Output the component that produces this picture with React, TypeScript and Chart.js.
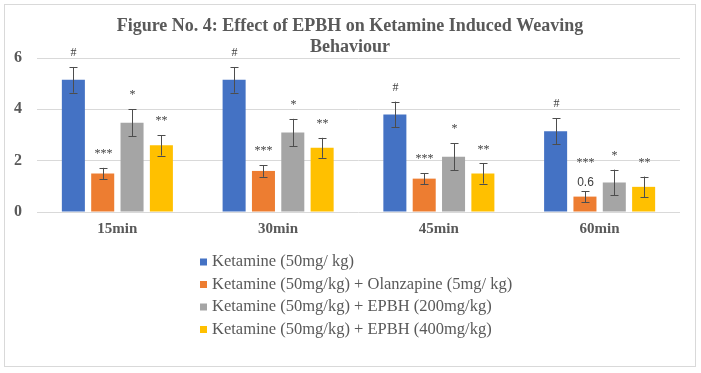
import React, { useEffect, useRef } from "react";
import { Chart, registerables } from "chart.js";

Chart.register(...registerables);

const categories = ["15min", "30min", "45min", "60min"];
const seriesLabels = [
  "Ketamine (50mg/ kg)",
  "Ketamine (50mg/kg) + Olanzapine (5mg/ kg)",
  "Ketamine (50mg/kg) + EPBH (200mg/kg)",
  "Ketamine (50mg/kg) + EPBH (400mg/kg)",
];
const seriesColors = ["#4472C4", "#ED7D31", "#A5A5A5", "#FFC000"];

const ketamine = [5.15, 5.15, 3.8, 3.15];
const olanzapine = [1.5, 1.6, 1.3, 0.6];
const epbh200 = [3.48, 3.1, 2.15, 1.15];
const epbh400 = [2.6, 2.5, 1.5, 0.98];

const ketamineErr = [0.5, 0.5, 0.5, 0.5];
const olanzapineErr = [0.22, 0.23, 0.21, 0.21];
const epbh200Err = [0.52, 0.53, 0.53, 0.5];
const epbh400Err = [0.4, 0.39, 0.39, 0.4];

const significance = ["#", "***", "*", "**"];
const yTicks = [0, 2, 4, 6];
const titleLines = ["Figure No. 4: Effect of EPBH on Ketamine Induced Weaving", "Behaviour"];
const labeledPoint = { series: 1, index: 3 };

const seriesValues = [ketamine, olanzapine, epbh200, epbh400];
const seriesErrors = [ketamineErr, olanzapineErr, epbh200Err, epbh400Err];

const TEXT = "#595959";
const SERIF = '"Liberation Serif", "Times New Roman", serif';

const decorPlugin = {
  id: "decor",
  beforeDraw(chart: any) {
    const ctx = chart.ctx;
    ctx.save();
    ctx.fillStyle = "#ffffff";
    ctx.fillRect(0, 0, chart.width, chart.height);
    ctx.strokeStyle = "#d9d9d9";
    ctx.lineWidth = 1;
    ctx.strokeRect(4.5, 4.5, 691, 362);
    ctx.fillStyle = TEXT;
    ctx.font = `bold 18px ${SERIF}`;
    ctx.textAlign = "center";
    ctx.textBaseline = "middle";
    ctx.fillText(titleLines[0], 350, 26);
    ctx.fillText(titleLines[1], 350, 47);
    ctx.restore();
  },
  afterDatasetsDraw(chart: any) {
    const ctx = chart.ctx;
    const ys = chart.scales.y;
    ctx.save();
    chart.data.datasets.forEach((ds: any, i: number) => {
      const meta = chart.getDatasetMeta(i);
      const errs = seriesErrors[i];
      ds.data.forEach((v: number, j: number) => {
        const x = Math.round(meta.data[j].x) + 0.5;
        const top = ys.getPixelForValue(v + errs[j]);
        const bot = ys.getPixelForValue(v - errs[j]);
        ctx.strokeStyle = "#4d4d4d";
        ctx.lineWidth = 1;
        ctx.beginPath();
        ctx.moveTo(x, top);
        ctx.lineTo(x, bot);
        ctx.moveTo(x - 4, Math.round(top) + 0.5);
        ctx.lineTo(x + 4, Math.round(top) + 0.5);
        ctx.moveTo(x - 4, Math.round(bot) + 0.5);
        ctx.lineTo(x + 4, Math.round(bot) + 0.5);
        ctx.stroke();

        const hasLabel = labeledPoint.series === i && labeledPoint.index === j;
        ctx.fillStyle = "#404040";
        ctx.textAlign = "center";
        ctx.textBaseline = "middle";
        if (hasLabel) {
          ctx.font = '12px "Liberation Sans", Arial, sans-serif';
          ctx.fillText(String(v), x, top - 9);
        }
        ctx.font = `12px ${SERIF}`;
        ctx.fillText(significance[i], x, top - 14 - (hasLabel ? 14 : 0));
      });
    });
    ctx.restore();
  },
  afterDraw(chart: any) {
    const ctx = chart.ctx;
    ctx.save();
    chart.data.datasets.forEach((ds: any, i: number) => {
      const cy = 262 + i * 22.5;
      ctx.fillStyle = ds.backgroundColor;
      ctx.fillRect(200, cy - 3.5, 7, 7);
      ctx.fillStyle = TEXT;
      ctx.font = `16.5px ${SERIF}`;
      ctx.textAlign = "left";
      ctx.textBaseline = "middle";
      ctx.fillText(ds.label, 212, cy);
    });
    ctx.restore();
  },
};

export default function App() {
  const ref = useRef<HTMLCanvasElement>(null);
  useEffect(() => {
    if (!ref.current) return;
    const chart = new Chart(ref.current, {
      type: "bar",
      data: {
        labels: categories,
        datasets: seriesValues.map((vals, i) => ({
          label: seriesLabels[i],
          data: vals,
          backgroundColor: seriesColors[i],
          borderWidth: 0,
          categoryPercentage: 0.73,
          barPercentage: 0.785,
        })),
      },
      options: {
        responsive: false,
        animation: false,
        devicePixelRatio: 1,
        layout: { padding: { left: 0, right: 21, top: 58, bottom: 131 } },
        plugins: {
          legend: { display: false },
          title: { display: false },
          tooltip: { enabled: false },
        },
        scales: {
          x: {
            grid: { display: false, drawTicks: false },
            border: { display: false },
            ticks: {
              color: TEXT,
              padding: 8,
              font: { family: SERIF, size: 15, weight: "bold" },
            },
            afterFit: (s: any) => {
              s.height = 30;
            },
          },
          y: {
            min: 0,
            max: 6,
            afterBuildTicks: (s: any) => {
              s.ticks = yTicks.map((v) => ({ value: v }));
            },
            grid: { color: "#d9d9d9", drawTicks: false },
            border: { display: false },
            ticks: {
              color: TEXT,
              padding: 15,
              font: { family: SERIF, size: 16, weight: "bold" },
            },
            afterFit: (s: any) => {
              s.width = 37;
            },
          },
        },
      },
      plugins: [decorPlugin],
    });
    return () => chart.destroy();
  }, []);
  return (
    <div style={{ position: "fixed", left: 0, top: 0, width: 701, height: 373, background: "#fff" }}>
      <canvas ref={ref} width={701} height={373} style={{ display: "block" }} />
    </div>
  );
}
